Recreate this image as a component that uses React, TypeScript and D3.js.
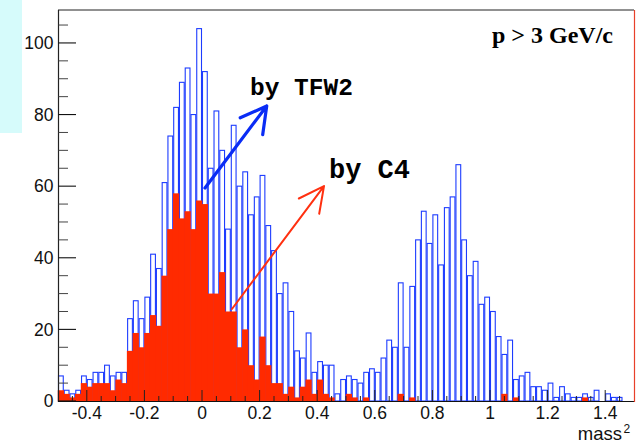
import React from 'react';
import * as d3 from 'd3';

// Histogram definition: 100 bins on [-0.5, 1.5]
const xDomain = [-0.5, 1.5];
const binCount = 100;

// Blue outlined histogram ("by TFW2")
const tfw2Counts = [
  7, 3, 2, 3, 7, 6, 8, 8, 10, 7,
  8, 8, 23, 28, 23, 29, 41, 37, 61, 74,
  82, 89, 93, 80, 104, 92, 65, 81, 70, 48,
  77, 60, 64, 52, 57, 63, 49, 42, 30, 33,
  25, 14, 12, 19, 8, 11, 10, 10, 2, 6,
  7, 6, 5, 8, 9, 8, 12, 17, 15, 33,
  15, 32, 45, 53, 44, 52, 38, 54, 57, 66,
  45, 35, 39, 27, 29, 25, 18, 13, 17, 6,
  7, 8, 4, 4, 3, 5, 1, 4, 2, 1,
  1, 2, 1, 3, 0, 2, 1, 1, 0, 0,
];

// Red filled histogram ("by C4")
const c4Counts = [
  3, 2, 1, 2, 5, 4, 5, 5, 5, 3,
  6, 5, 14, 19, 15, 19, 24, 21, 35, 48,
  58, 51, 53, 48, 56, 55, 30, 30, 36, 25,
  25, 15, 20, 10, 6, 18, 10, 5, 5, 2,
  4, 1, 4, 6, 2, 6, 2, 1, 0, 0,
  2, 1, 0, 1, 0, 0, 0, 0, 0, 2,
  0, 1, 0, 0, 0, 0, 0, 0, 0, 0,
  0, 0, 0, 0, 0, 0, 0, 2, 0, 1,
  0, 0, 0, 0, 0, 0, 0, 0, 0, 0,
  0, 1, 0, 0, 0, 0, 0, 0, 0, 0,
];

const yMajorTicks = [0, 20, 40, 60, 80, 100];
const xMajorTicks = [-0.4, -0.2, 0, 0.2, 0.4, 0.6, 0.8, 1, 1.2, 1.4];

// annotation arrows in data coordinates [x, y]
const tfw2Arrow = { from: [0.0104, 59.5], to: [0.2247, 82.4] };
const c4Arrow = { from: [0.104, 25.7], to: [0.4236, 60.0] };
const tfw2LabelPos = [0.1667, 85.4];
const c4LabelPos = [0.441, 62.3];

const yMax = 104 * 1.05;

function fmt(v: number) {
  if (Math.abs(v) < 1e-9) return '0';
  return String(+v.toFixed(1));
}

function arrowPath(x: any, y: any, a: any, len: number, ang: number) {
  const x1 = x(a.from[0]), y1 = y(a.from[1]);
  const x2 = x(a.to[0]), y2 = y(a.to[1]);
  const back = Math.atan2(y1 - y2, x1 - x2);
  const r = (ang * Math.PI) / 180;
  const w1 = [x2 + len * Math.cos(back + r), y2 + len * Math.sin(back + r)];
  const w2 = [x2 + len * Math.cos(back - r), y2 + len * Math.sin(back - r)];
  return `M${x1},${y1}L${x2},${y2}M${w1[0]},${w1[1]}L${x2},${y2}L${w2[0]},${w2[1]}`;
}

export default function App() {
  const W = 644, H = 442;
  const x = d3.scaleLinear().domain(xDomain).range([58, 634]);
  const y = d3.scaleLinear().domain([0, yMax]).range([401, 10]);
  const bw = (xDomain[1] - xDomain[0]) / binCount;
  const edges = d3.range(binCount + 1).map((i) => xDomain[0] + i * bw);

  const blue = '#1d3cff';
  const red = '#ff2a00';
  const sans = "'Liberation Sans', Arial, Helvetica, sans-serif";

  const yMinor = d3.range(0, 106, 5).filter((v) => v % 20 !== 0);
  const xAll = d3.range(0, 41).map((k) => xDomain[0] + k * 0.05).filter((v) => v > -0.499 && v < 1.499);
  const isMajor = (v: number) => Math.abs(v / 0.2 - Math.round(v / 0.2)) < 1e-6;

  return (
    <svg width={W} height={H} style={{ position: 'absolute', left: 0, top: 0, display: 'block', background: '#fff' }}>
      <rect x={0} y={0} width={W} height={H} fill="#fff" />
      <rect x={0} y={0} width={22} height={133} fill="#d6fbfb" />

      {/* blue outlined histogram */}
      <g>
        {tfw2Counts.map((v, i) => {
          if (v <= 0) return null;
          const x0 = x(edges[i]);
          const x1 = x(edges[i + 1]);
          return (
            <rect key={'b' + i} x={x0 + 0.5} y={y(v)} width={x1 - x0 - 1} height={y(0) - y(v)}
              fill="#fff" stroke={blue} strokeWidth={1.1} />
          );
        })}
      </g>

      {/* red filled histogram */}
      <g>
        {c4Counts.map((v, i) => {
          if (v <= 0) return null;
          const x0 = x(edges[i]);
          const x1 = x(edges[i + 1]);
          return (
            <rect key={'r' + i} x={x0 - 0.25} y={y(v)} width={x1 - x0 + 0.5} height={y(0) - y(v) + 0.5} fill={red} />
          );
        })}
      </g>

      {/* frame */}
      <line x1={58} x2={634} y1={10} y2={10} stroke="#222" strokeWidth={1} />
      <line x1={58.5} x2={58.5} y1={10} y2={402} stroke="#222" strokeWidth={1.2} />
      <line x1={58} x2={635} y1={401.5} y2={401.5} stroke="#111" strokeWidth={1.2} />
      <line x1={634.5} x2={634.5} y1={10} y2={402} stroke="#e8402a" strokeWidth={1.2} />

      {/* y ticks */}
      {yMajorTicks.map((v) => (
        <g key={'ym' + v}>
          <line x1={58.5} x2={76} y1={y(v)} y2={y(v)} stroke="#111" strokeWidth={1.1} />
          <text x={53.5} y={y(v) + 6.3} textAnchor="end" fontFamily={sans} fontSize={17.5} fill="#111">{fmt(v)}</text>
        </g>
      ))}
      {yMinor.map((v) => (
        <line key={'yn' + v} x1={58.5} x2={68} y1={y(v)} y2={y(v)} stroke="#444" strokeWidth={1} />
      ))}

      {/* x ticks */}
      {xAll.map((v, k) => (
        <line key={'xt' + k} x1={x(v)} x2={x(v)} y1={401} y2={isMajor(v) ? 390 : 396} stroke="#222" strokeWidth={1} />
      ))}
      {xMajorTicks.map((v) => (
        <text key={'xl' + v} x={x(v)} y={418.5} textAnchor="middle" fontFamily={sans} fontSize={17.5} fill="#111">{fmt(v)}</text>
      ))}

      {/* axis title */}
      <text x={622} y={439.5} textAnchor="end" fontFamily={sans} fontSize={18.5} fill="#111">mass</text>
      <text x={623.5} y={433} fontFamily={sans} fontSize={12} fill="#111">2</text>

      {/* annotation */}
      <text x={613} y={42.7} textAnchor="end" fontFamily="'Liberation Serif', 'Times New Roman', serif" fontWeight="bold" fontSize={24} fill="#000">p &gt; 3 GeV/c</text>

      <path d={arrowPath(x, y, tfw2Arrow, 29, 29)} fill="none" stroke="#0a2cf5" strokeWidth={3.2} strokeLinecap="round" strokeLinejoin="round" />
      <path d={arrowPath(x, y, c4Arrow, 28, 27)} fill="none" stroke="#ff3010" strokeWidth={2} strokeLinecap="round" strokeLinejoin="round" />

      <text x={x(tfw2LabelPos[0])} y={y(tfw2LabelPos[1])} fontFamily="'Liberation Mono', 'Courier New', monospace" fontWeight="bold" fontSize={24.5} fill="#000">by TFW2</text>
      <text x={x(c4LabelPos[0])} y={y(c4LabelPos[1])} fontFamily="'Liberation Mono', 'Courier New', monospace" fontWeight="bold" fontSize={27} fill="#000">by C4</text>
    </svg>
  );
}
